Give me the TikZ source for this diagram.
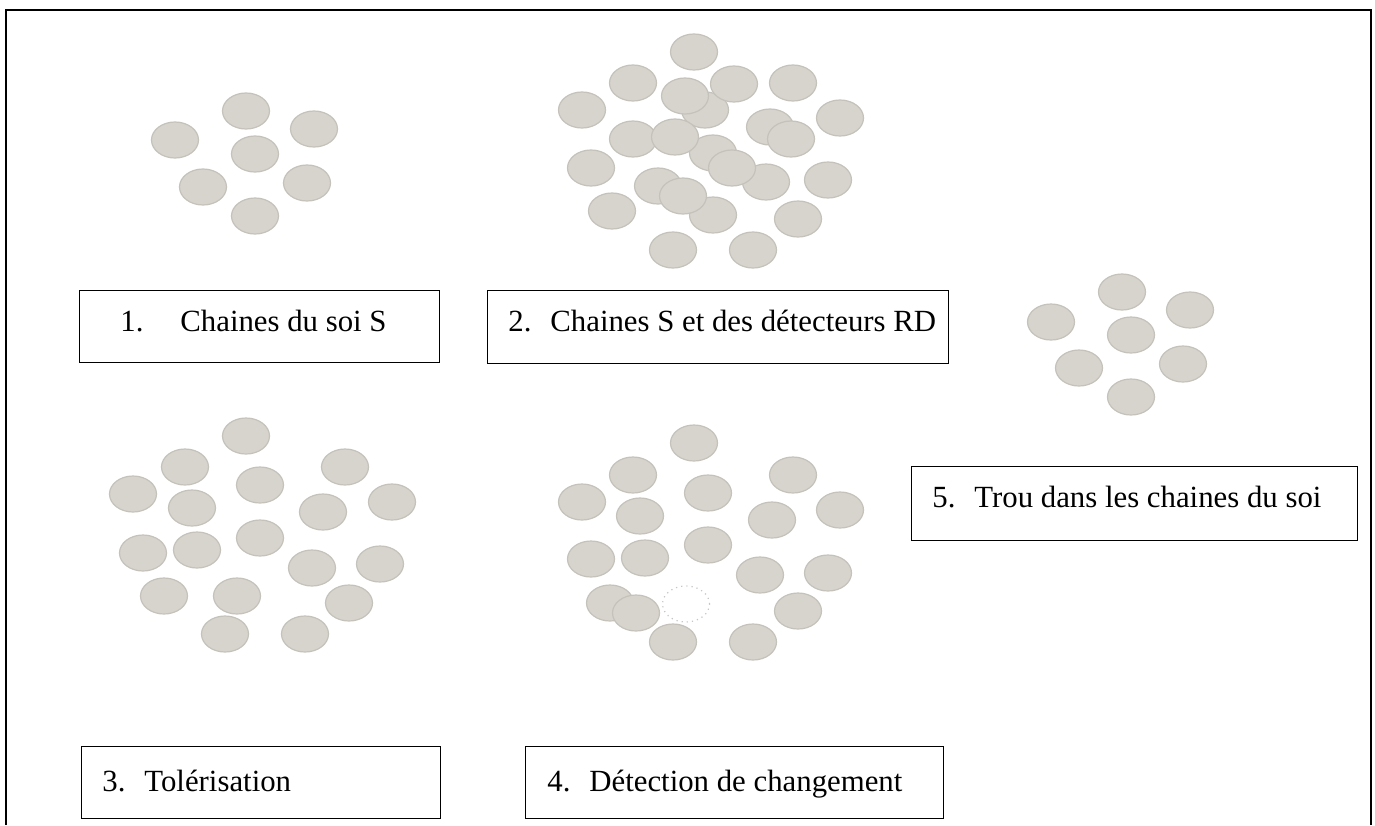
\documentclass[tikz,border=0pt]{standalone}
\usepackage{fontspec}
\setmainfont{Liberation Serif}
\usepackage{tikz}
\usetikzlibrary{positioning}

\definecolor{cellfill}{RGB}{214,212,205}
\definecolor{celledge}{RGB}{196,194,186}

\begin{document}
\begin{tikzpicture}[
  x=0.5pt, y=-0.5pt,
  cell/.style={fill=cellfill, draw=celledge, line width=0.6pt},
  hole/.style={draw=gray!45, dotted, line width=0.6pt},
  legend/.style={draw, line width=0.65pt, anchor=north west, inner sep=0pt},
  caption/.style={anchor=base west, inner sep=0pt, font=\fontsize{15.4}{18}\selectfont}
]
\useasboundingbox (0,0) rectangle (1375,825);

% outer frame (open at the bottom)
\draw[line width=1.2pt] (6,825) -- (6,10) -- (1371,10) -- (1371,825);

% 1. self chains
\foreach \x/\y in {175/140, 246/111, 314/129, 255/154, 203/187, 307/183, 255/216}
  \draw[cell] (\x,\y) ellipse [x radius=11.75pt, y radius=9pt];

% 2. self chains and detectors (back ones first)
\foreach \x/\y in {694/52, 633/83, 582/110, 705/110, 734/84, 793/83, 840/118,
                   633/139, 770/127, 713/153, 766/182, 828/180, 658/186,
                   713/215, 612/211, 798/219, 673/250, 753/250, 591/168}
  \draw[cell] (\x,\y) ellipse [x radius=11.75pt, y radius=9pt];
\foreach \x/\y in {685/96, 675/137, 791/139, 732/168, 683/196}
  \draw[cell] (\x,\y) ellipse [x radius=11.75pt, y radius=9pt];

% 5. hole in the self chains
\foreach \x/\y in {1051/322, 1122/292, 1190/310, 1131/335, 1079/368, 1183/364, 1131/397}
  \draw[cell] (\x,\y) ellipse [x radius=11.75pt, y radius=9pt];

% 3. tolerisation
\foreach \x/\y in {246/436, 185/467, 133/494, 260/485, 345/467, 392/502,
                   192/508, 323/512, 143/553, 197/550, 260/538, 312/568,
                   380/564, 164/596, 237/596, 349/603, 225/634, 305/634}
  \draw[cell] (\x,\y) ellipse [x radius=11.75pt, y radius=9pt];

% 4. change detection
\foreach \x/\y in {694/443, 633/475, 582/502, 708/493, 793/475, 840/510,
                   640/516, 772/520, 591/559, 645/558, 708/545, 760/575,
                   828/573, 610/603, 636/613, 798/611, 673/642, 753/642}
  \draw[cell] (\x,\y) ellipse [x radius=11.75pt, y radius=9pt];
\draw[hole] (686,604) ellipse [x radius=11.75pt, y radius=9pt];

% legend boxes
\node[legend, minimum width=180pt, minimum height=36pt] (box1) at (79,290) {};
\node[legend, minimum width=230.5pt, minimum height=36.5pt] (box2) at (487,290) {};
\node[legend, minimum width=223pt, minimum height=37pt] (box5) at (911,466) {};
\node[legend, minimum width=179.5pt, minimum height=36pt] (box3) at (81,746) {};
\node[legend, minimum width=209pt, minimum height=36pt] (box4) at (525,746) {};

\node[caption] (cap1) at (120,331) {\makebox[30pt][l]{1.}Chaines du soi S};
\node[caption] (cap2) at (508,331) {\makebox[21pt][l]{2.}Chaines S et des détecteurs RD};
\node[caption] (cap5) at (932,507) {\makebox[21pt][l]{5.}Trou dans les chaines du soi};
\node[caption] (cap3) at (102,791) {\makebox[21pt][l]{3.}Tolérisation};
\node[caption] (cap4) at (547,791) {\makebox[21pt][l]{4.}Détection de changement};

\end{tikzpicture}
\end{document}
